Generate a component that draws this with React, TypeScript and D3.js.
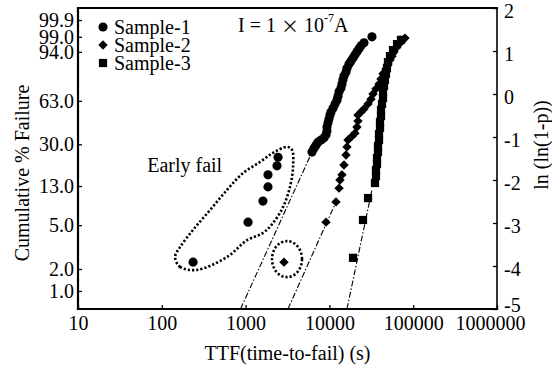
import { useEffect, useRef } from 'react';
import * as d3 from 'd3';

// TTF in seconds, and ln(ln(1-p))
const sample1Early: [number, number][] = [
  [236, -3.91], [1070, -2.98], [1610, -2.49], [1850, -2.16], [1850, -1.88], [2370, -1.67], [2440, -1.47],
];
const sample1: [number, number][] = [
  [6200, -1.35], [6550, -1.26], [6920, -1.19], [7310, -1.12], [7940, -1.07], [8630, -1.02], [9110, -0.95],
  [9350, -0.86], [9350, -0.77], [9620, -0.67], [9890, -0.58], [10160, -0.49], [10450, -0.42], [11040, -0.33],
  [11670, -0.23], [12330, -0.14], [12670, -0.05], [13030, 0.05], [13750, 0.14], [14130, 0.23], [14520, 0.33],
  [14930, 0.42], [15780, 0.51], [16220, 0.6], [17140, 0.7], [18110, 0.77], [19140, 0.84], [20180, 0.91],
  [21330, 0.98], [22540, 1.05], [23820, 1.12], [25880, 1.19], [32210, 1.33],
];
const sample2: [number, number][] = [
  [2870, -3.91], [9110, -2.98], [11990, -2.51], [13030, -2.19], [13370, -2.0], [14130, -1.88], [14930, -1.65],
  [15780, -1.42], [16220, -1.23], [16670, -1.07], [18620, -0.98], [20180, -0.91], [21330, -0.77], [21930, -0.63],
  [21930, -0.49], [23820, -0.42], [25880, -0.35], [28910, -0.23], [31330, -0.12], [33110, 0.0], [35970, 0.12],
  [39080, 0.23], [41300, 0.35], [43630, 0.47], [47320, 0.58], [50010, 0.7], [52840, 0.79], [55850, 0.88],
  [59020, 0.98], [62370, 1.07], [67750, 1.16], [73450, 1.23], [79800, 1.3],
];
const sample3: [number, number][] = [
  [19140, -3.81], [25180, -2.93], [28910, -2.42], [34990, -2.07], [35970, -1.91], [35970, -1.77], [36980, -1.63],
  [36980, -1.49], [38020, -1.35], [38020, -1.21], [39080, -1.07], [39080, -0.93], [40180, -0.79], [40180, -0.65],
  [41300, -0.51], [41300, -0.37], [42460, -0.23], [43630, -0.09], [43630, 0.05], [44870, 0.19], [46030, 0.33],
  [47320, 0.47], [48640, 0.6], [50010, 0.74], [52840, 0.88], [57410, 1.02], [64120, 1.16], [71450, 1.26],
];

// fitted Weibull lines, end points
const fitLines: [number, number][][] = [
  [[870, -5], [6200, -1.35]],
  [[3200, -5], [11990, -2.51]],
  [[16200, -5], [32200, -2.23]],
];

// dotted annotation around the early fails
const earlyFailOutline: [number, number][] = [
  [144, -3.79], [165, -4.02], [263, -4.09], [600, -3.79], [1040, -3.4], [1614, -3.23], [2123, -3.0],
  [2794, -2.63], [3388, -2.16], [3681, -1.7], [3579, -1.3], [3119, -1.23], [2123, -1.37], [1486, -1.58],
  [931, -1.84], [600, -2.23], [376, -2.7], [236, -3.16], [165, -3.56],
];
const outlierRing: [number, number] = [3120, -3.84];
const earlyFailLabel: [number, number] = [67, -1.65];

const xTicks = [10, 100, 1000, 10000, 100000, 1000000];
const rightTicks = [2, 1, 0, -1, -2, -3, -4, -5];
const leftTickLabels = ['99.9', '99.0', '94.0', '63.0', '30.0', '13.0', '5.0', '2.0', '1.0'];
const leftTickAt = [1.72, 1.33, 0.98, -0.16, -1.17, -2.14, -3.05, -4.07, -4.58];
const legendLabels = ['Sample-1', 'Sample-2', 'Sample-3'];

const FONT = '"Liberation Serif", "Times New Roman", serif';

export default function App() {
  const svgRef = useRef<SVGSVGElement>(null);

  useEffect(() => {
    if (!svgRef.current) return;
    document.body.style.margin = '0';
    const width = 552;
    const height = 374;
    const plot = { left: 78, right: 497, top: 8, bottom: 309 };

    const svg = d3.select(svgRef.current);
    svg.selectAll('*').remove();
    svg.attr('width', width).attr('height', height).style('background', '#fff');

    const x = d3.scaleLog().domain([10, 1e6]).range([plot.left, plot.right]);
    const y = d3.scaleLinear().domain([-5, 2]).range([plot.bottom, plot.top]);

    const symbols = [
      d3.symbol().type(d3.symbolCircle).size(66),
      d3.symbol().type(d3.symbolSquare).size(44),
      d3.symbol().type(d3.symbolSquare).size(68),
    ];
    const rotations = [0, 45, 0];

    // fit lines
    const line = d3
      .line<[number, number]>()
      .x((d) => x(d[0]))
      .y((d) => y(d[1]));
    fitLines.forEach((pts) => {
      svg
        .append('path')
        .attr('d', line(pts))
        .attr('fill', 'none')
        .attr('stroke', '#000')
        .attr('stroke-width', 1.1)
        .attr('stroke-dasharray', '6,2,1.5,2');
    });

    // Early fail outline
    const closed = d3
      .line<[number, number]>()
      .x((d) => x(d[0]))
      .y((d) => y(d[1]))
      .curve(d3.curveCatmullRomClosed);
    svg
      .append('path')
      .attr('d', closed(earlyFailOutline))
      .attr('fill', 'none')
      .attr('stroke', '#000')
      .attr('stroke-width', 2.6)
      .attr('stroke-dasharray', '2.2,2');

    svg
      .append('ellipse')
      .attr('cx', x(outlierRing[0]))
      .attr('cy', y(outlierRing[1]))
      .attr('rx', 15)
      .attr('ry', 18)
      .attr('fill', 'none')
      .attr('stroke', '#000')
      .attr('stroke-width', 2.6)
      .attr('stroke-dasharray', '2.2,2');

    svg
      .append('text')
      .attr('x', x(earlyFailLabel[0]))
      .attr('y', y(earlyFailLabel[1]))
      .attr('dominant-baseline', 'central')
      .attr('font-family', FONT)
      .attr('font-size', 20)
      .text('Early fail');

    // markers
    const series = [sample1Early.concat(sample1), sample2, sample3];
    series.forEach((data, si) => {
      svg
        .append('g')
        .selectAll('path')
        .data(data)
        .join('path')
        .attr('d', symbols[si]() as string)
        .attr('transform', (d) => `translate(${x(d[0])},${y(d[1])}) rotate(${rotations[si]})`)
        .attr('fill', '#000');
    });

    // axes
    const bottom = svg
      .append('g')
      .attr('transform', `translate(0,${plot.bottom})`)
      .call(
        d3
          .axisBottom(x)
          .tickValues(xTicks)
          .tickFormat((d) => String(d))
          .tickSize(-4)
          .tickPadding(7),
      );
    bottom.select('.domain').remove();
    bottom
      .selectAll('text')
      .attr('font-size', 20)
      .attr('font-family', FONT)
      .attr('fill', '#000')
      .attr('dx', (_d, i) => (i === xTicks.length - 1 ? -7 : 0));
    bottom.selectAll('line').attr('stroke-width', 1.3);

    const left = svg
      .append('g')
      .attr('transform', `translate(${plot.left},0)`)
      .call(
        d3
          .axisLeft(y)
          .tickValues(leftTickAt)
          .tickFormat((_d, i) => leftTickLabels[i])
          .tickSize(-4)
          .tickPadding(4),
      );
    left.select('.domain').remove();
    left.selectAll('text').attr('font-size', 20).attr('font-family', FONT).attr('fill', '#000');
    left.selectAll('line').attr('stroke-width', 1.3);

    const right = svg
      .append('g')
      .attr('transform', `translate(${plot.right},0)`)
      .call(
        d3
          .axisRight(y)
          .tickValues(rightTicks)
          .tickFormat((d) => String(d))
          .tickSize(-4)
          .tickPadding(7),
      );
    right.select('.domain').remove();
    right
      .selectAll('text')
      .attr('font-size', 20)
      .attr('font-family', FONT)
      .attr('fill', '#000')
      .attr('dy', (_d, i) => (i === rightTicks.length - 1 ? '0.1em' : '0.45em'));
    right.selectAll('line').attr('stroke-width', 1.3);

    // frame
    const frame = [
      [plot.left, plot.top, plot.right, plot.top, 2.2],
      [plot.left, plot.top, plot.left, plot.bottom, 2.2],
      [plot.left, plot.bottom, plot.right, plot.bottom, 2.2],
      [plot.right, plot.top, plot.right, plot.bottom, 1.6],
    ];
    frame.forEach(([x1, y1, x2, y2, w]) => {
      svg
        .append('line')
        .attr('x1', x1)
        .attr('y1', y1)
        .attr('x2', x2)
        .attr('y2', y2)
        .attr('stroke', '#000')
        .attr('stroke-width', w)
        .attr('stroke-linecap', 'square');
    });

    // legend
    legendLabels.forEach((label, i) => {
      const ly = 27 + i * 18;
      svg
        .append('path')
        .attr('d', symbols[i]() as string)
        .attr('transform', `translate(103,${ly}) rotate(${rotations[i]})`)
        .attr('fill', '#000');
      svg
        .append('text')
        .attr('x', 114)
        .attr('y', ly)
        .attr('dominant-baseline', 'central')
        .attr('font-family', FONT)
        .attr('font-size', 20)
        .text(label);
    });

    // current note
    const note = svg
      .append('text')
      .attr('x', 238)
      .attr('y', 25)
      .attr('dominant-baseline', 'central')
      .attr('font-family', FONT)
      .attr('font-size', 20);
    note.append('tspan').text('I = 1 ');
    note.append('tspan').attr('font-family', '"Noto Sans CJK SC", sans-serif').attr('font-size', 18).text('×');
    note.append('tspan').text(' 10');
    note.append('tspan').attr('font-size', 12).attr('dy', -7).text('-7');
    note.append('tspan').attr('dy', 7).text('A');

    // titles
    svg
      .append('text')
      .attr('x', (plot.left + plot.right) / 2)
      .attr('y', 353)
      .attr('text-anchor', 'middle')
      .attr('dominant-baseline', 'central')
      .attr('font-family', FONT)
      .attr('font-size', 20)
      .text('TTF(time-to-fail) (s)');

    svg
      .append('text')
      .attr('transform', `translate(22,173) rotate(-90)`)
      .attr('text-anchor', 'middle')
      .attr('dominant-baseline', 'central')
      .attr('font-family', FONT)
      .attr('font-size', 20)
      .text('Cumulative % Failure');

    svg
      .append('text')
      .attr('transform', `translate(541,145) rotate(-90)`)
      .attr('text-anchor', 'middle')
      .attr('dominant-baseline', 'central')
      .attr('font-family', FONT)
      .attr('font-size', 20)
      .text('ln (ln(1-p))');
  }, []);

  return <svg ref={svgRef} style={{ position: 'absolute', left: 0, top: 0 }} />;
}
